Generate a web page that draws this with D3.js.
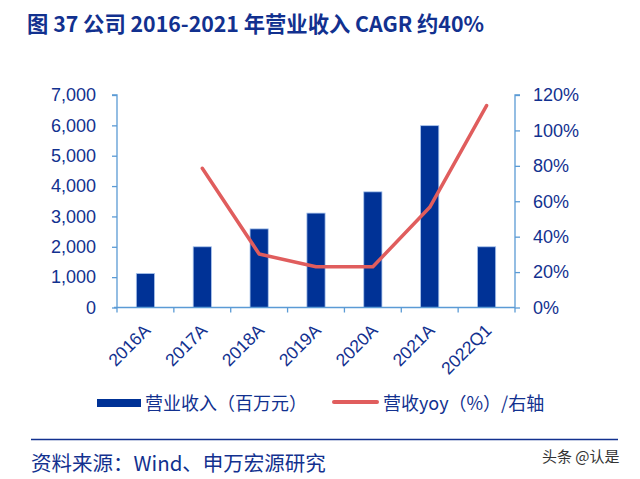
<!DOCTYPE html>
<html><head><meta charset="utf-8">
<script src="https://cdn.jsdelivr.net/npm/d3@7"></script>
<style>
body{margin:0;background:#fff;}
svg{display:block;font-family:"Liberation Sans",Arial,"Noto Sans CJK SC",sans-serif;}
</style></head>
<body>
<svg id="c" width="640" height="479"></svg>
<script>
const categories = ["2016A","2017A","2018A","2019A","2020A","2021A","2022Q1"];
const revenue = [1120, 2000, 2590, 3110, 3810, 5990, 2000];
const yoy = [null, 78.6, 30.2, 23.0, 23.0, 56.6, 114.0];
const leftTicks = [0,1000,2000,3000,4000,5000,6000,7000];
const rightTicks = [0,20,40,60,80,100,120];

const svg = d3.select("#c");
const blue = "#003296", axisC = "#5b9bd5", textC = "#12318f", red = "#e05d5d";
const m = {l:117, r:515, t:95, b:307.5};

const x = d3.scaleBand().domain(categories).range([m.l, m.r]).paddingInner(0.68).paddingOuter(0.34);
const yL = d3.scaleLinear().domain([0,7000]).range([m.b, m.t]);
const yR = d3.scaleLinear().domain([0,120]).range([m.b, m.t]);

// title
svg.append("text").attr("x",27).attr("y",32).attr("fill","#12318f")
  .attr("font-size",21.3).attr("font-weight","bold")
  .attr("font-family","'Noto Sans CJK SC','Liberation Sans',sans-serif")
  .text("图 37  公司 2016-2021 年营业收入 CAGR 约40%");

// left axis
const gL = svg.append("g").attr("transform",`translate(${m.l},0)`)
  .call(d3.axisLeft(yL).tickValues(leftTicks).tickSize(5).tickPadding(16).tickFormat(d3.format(",")));
gL.selectAll("line,path").attr("stroke",axisC).attr("stroke-width",1.3);
gL.select("path").attr("d",`M-5,${m.t}H0V${m.b}`);
gL.selectAll("text").attr("fill",textC).attr("font-size",18).attr("font-family","'Liberation Sans',Arial,sans-serif");

// right axis
const gR = svg.append("g").attr("transform",`translate(${m.r},0)`)
  .call(d3.axisRight(yR).tickValues(rightTicks).tickSize(5).tickPadding(13).tickFormat(d=>d+"%"));
gR.selectAll("line,path").attr("stroke",axisC).attr("stroke-width",1.3);
gR.select("path").attr("d",`M5,${m.t}H0V${m.b}`);
gR.selectAll("text").attr("fill",textC).attr("font-size",18).attr("font-family","'Liberation Sans',Arial,sans-serif");

// bars
svg.append("g").selectAll("rect").data(revenue).join("rect")
  .attr("x",(d,i)=>x(categories[i])).attr("width",x.bandwidth())
  .attr("y",d=>yL(d)).attr("height",d=>m.b-yL(d))
  .attr("fill",blue).attr("stroke","#a9c4ec").attr("stroke-width",0.8);

// bottom axis
const xTickScale = d3.scaleLinear().domain([0,categories.length]).range([m.l,m.r]);
const gB = svg.append("g");
gB.append("line").attr("x1",m.l-3).attr("x2",m.r).attr("y1",m.b).attr("y2",m.b).attr("stroke",axisC).attr("stroke-width",1.3);
gB.selectAll("line.t").data(d3.range(categories.length+1)).join("line").attr("class","t")
  .attr("x1",d=>xTickScale(d)).attr("x2",d=>xTickScale(d)).attr("y1",m.b).attr("y2",m.b+5)
  .attr("stroke",axisC).attr("stroke-width",1.3);
gB.selectAll("text").data(categories).join("text")
  .attr("transform",d=>`translate(${x(d)+x.bandwidth()/2+6},${m.b+24}) rotate(-45)`)
  .attr("text-anchor","end").attr("fill",textC).attr("font-size",17.5)
  .attr("font-family","'Liberation Sans',Arial,sans-serif").text(d=>d);

// line
const pts = yoy.map((v,i)=>({v, c:categories[i]})).filter(p=>p.v!==null);
svg.append("path").datum(pts)
  .attr("d",d3.line().x(p=>x(p.c)+x.bandwidth()/2).y(p=>yR(p.v)))
  .attr("fill","none").attr("stroke",red).attr("stroke-width",3.5).attr("stroke-linecap","round").attr("stroke-linejoin","round");

// legend
const lg = svg.append("g").attr("font-family","'Noto Sans CJK SC',sans-serif").attr("font-size",18).attr("fill",textC);
lg.append("rect").attr("x",97).attr("y",399).attr("width",44).attr("height",8).attr("fill",blue);
lg.append("text").attr("x",145).attr("y",410).attr("fill",textC).text("营业收入（百万元）");
lg.append("line").attr("x1",334).attr("x2",377).attr("y1",402).attr("y2",402).attr("stroke",red).attr("stroke-width",4).attr("stroke-linecap","round");
lg.append("text").attr("x",383).attr("y",410).attr("fill",textC).text("营收yoy（%）/右轴");

// separator & source
svg.append("line").attr("x1",31).attr("x2",618).attr("y1",439.5).attr("y2",439.5).attr("stroke","#12318f").attr("stroke-width",1.5);
svg.append("text").attr("x",31).attr("y",471).attr("fill",textC).attr("font-size",20.5)
  .attr("font-family","'Noto Sans CJK SC',sans-serif").text("资料来源：Wind、申万宏源研究");
svg.append("text").attr("x",542).attr("y",462).attr("fill","#333").attr("font-size",15)
  .attr("font-family","'Noto Sans CJK SC',sans-serif").text("头条 @认是");
</script>
</body></html>
